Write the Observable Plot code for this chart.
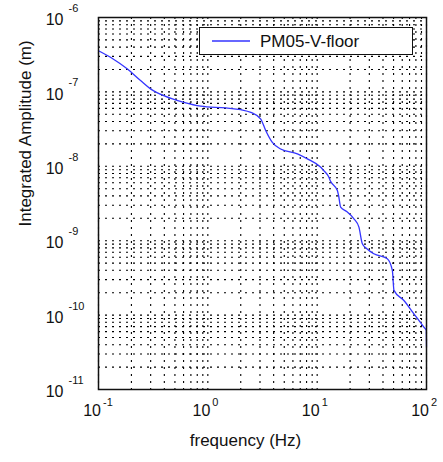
<!DOCTYPE html>
<html>
<head>
<meta charset="utf-8">
<script src="https://cdn.jsdelivr.net/npm/d3@7"></script>
<script src="https://cdn.jsdelivr.net/npm/@observablehq/plot@0.6"></script>
<style>
  html, body { margin: 0; padding: 0; background: white; }
  #wrap { position: relative; width: 443px; height: 462px; font-family: "Liberation Sans", Arial, sans-serif; }
  #legend { position: absolute; left: 199px; top: 27px; width: 212px; height: 26px; border: 1.3px solid #111; background: white; }
  #legend svg { position: absolute; left: 0; top: 0; }
  #legend span { position: absolute; left: 60px; top: 4px; font-size: 17px; color: #111; white-space: nowrap; }
</style>
</head>
<body>
<div id="wrap"></div>
<script>
// Data
const seriesName = "PM05-V-floor";
const freq = [0.1, 0.135, 0.184, 0.244, 0.301, 0.396, 0.603, 0.861, 1.46, 2.0, 2.47, 3.05, 3.39, 3.89, 4.63, 6.59, 8.13, 10.8, 11.5, 12.7, 13.3, 15.3, 15.7, 16.4, 18.6, 21.7, 24.1, 25.9, 28.3, 33.0, 43.8, 48.7, 50.4, 62.1, 76.7, 94.6, 99.5, 100];
const amp = [3.57e-7, 2.79e-7, 2.03e-7, 1.41e-7, 1.09e-7, 8.89e-8, 7.23e-8, 6.43e-8, 6.08e-8, 5.77e-8, 5.31e-8, 4.32e-8, 3.01e-8, 2.10e-8, 1.71e-8, 1.47e-8, 1.26e-8, 9.7e-9, 8.75e-9, 7.28e-9, 6.24e-9, 4.72e-9, 4.05e-9, 2.82e-9, 2.47e-9, 1.97e-9, 1.52e-9, 9.08e-10, 7.85e-10, 6.67e-10, 5.71e-10, 3.98e-10, 2.15e-10, 1.57e-10, 1.04e-10, 6.9e-11, 6.24e-11, 3.80e-11];

const xMajor = [0.1, 1, 10, 100];
const yMajor = [1e-11, 1e-10, 1e-9, 1e-8, 1e-7, 1e-6];
const mantissas = [1, 2, 3, 4, 5, 6, 7, 8, 9];
const xLabel = "frequency (Hz)";
const yLabel = "Integrated Amplitude (m)";

const data = freq.map((f, i) => ({f, a: amp[i]}));
const minorOf = (majors) => majors.slice(0, -1).flatMap(m => mantissas.map(k => +(k * m).toPrecision(3))).concat([majors[majors.length - 1]]);
const xGrid = minorOf(xMajor);
const yGrid = minorOf(yMajor);
const expo = d => String(Math.round(Math.log10(d)));

const chart = Plot.plot({
  width: 443,
  height: 462,
  marginLeft: 98,
  marginRight: 17,
  marginTop: 17,
  marginBottom: 73,
  style: {fontFamily: "'Liberation Sans', Arial, sans-serif", background: "white", color: "#111"},
  x: {type: "log", domain: [0.1, 100], axis: null},
  y: {type: "log", domain: [1e-11, 1e-6], axis: null},
  marks: [
    Plot.ruleX(xGrid, {x: d => d, stroke: "black", strokeWidth: 1.1, strokeDasharray: "2,5"}),
    Plot.ruleY(yGrid, {y: d => d, stroke: "black", strokeWidth: 1.1, strokeDasharray: "2,5"}),
    Plot.line(data, {x: "f", y: "a", stroke: "#3535ff", strokeWidth: 1.3, curve: "monotone-x"}),
    Plot.frame({stroke: "#111", strokeWidth: 1.5}),
    // x tick labels
    Plot.text(xMajor, {x: d => d, frameAnchor: "bottom", text: () => "10", textAnchor: "end", dx: 2.5, dy: 26, fontSize: 16}),
    Plot.text(xMajor, {x: d => d, frameAnchor: "bottom", text: expo, textAnchor: "start", dx: 4.5, dy: 16, fontSize: 11}),
    // y tick labels
    Plot.text(yMajor, {y: d => d, frameAnchor: "left", text: () => "10", textAnchor: "end", dx: -35, dy: 2.5, fontSize: 16}),
    Plot.text(yMajor, {y: d => d, frameAnchor: "left", text: expo, textAnchor: "start", dx: -30, dy: -9, fontSize: 11}),
    // axis titles
    Plot.text([xLabel], {frameAnchor: "bottom", text: d => d, dx: -17, dy: 56, fontSize: 17}),
    Plot.text([yLabel], {frameAnchor: "left", text: d => d, rotate: -90, dx: -73, dy: 23, fontSize: 17})
  ]
});

const wrap = document.getElementById("wrap");
wrap.appendChild(chart);

// Legend (overlay, like gnuplot's key box)
const legend = document.createElement("div");
legend.id = "legend";
const ns = "http://www.w3.org/2000/svg";
const lsvg = document.createElementNS(ns, "svg");
lsvg.setAttribute("width", "60");
lsvg.setAttribute("height", "26");
const ln = document.createElementNS(ns, "line");
ln.setAttribute("x1", "12"); ln.setAttribute("x2", "50");
ln.setAttribute("y1", "13"); ln.setAttribute("y2", "13");
ln.setAttribute("stroke", "#3535ff"); ln.setAttribute("stroke-width", "1.3");
lsvg.appendChild(ln);
legend.appendChild(lsvg);
const lt = document.createElement("span");
lt.textContent = seriesName;
legend.appendChild(lt);
wrap.appendChild(legend);
</script>
</body>
</html>
